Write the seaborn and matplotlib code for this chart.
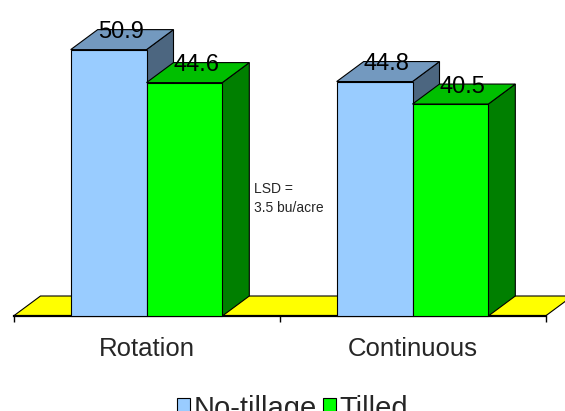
import numpy as np
import pandas as pd
import matplotlib
matplotlib.use("Agg")
import matplotlib.pyplot as plt
from matplotlib.patches import Polygon, Patch
import seaborn as sns

# Yield by cropping system and tillage (bu/acre)
systems = ["Rotation", "Continuous"]
tillage = ["No-tillage", "Tilled"]
no_till_yield = [50.9, 44.8]
tilled_yield = [44.6, 40.5]
lsd_note = "LSD =\n3.5 bu/acre"

front_colors = {"No-tillage": "#99CCFF", "Tilled": "#00FF00"}
top_colors = {"No-tillage": "#7399BF", "Tilled": "#00BF00"}
side_colors = {"No-tillage": "#4C6680", "Tilled": "#007F00"}
floor_color = "#FFFF00"

df = pd.DataFrame({
    "system": systems * 2,
    "tillage": [tillage[0]] * len(systems) + [tillage[1]] * len(systems),
    "yield": no_till_yield + tilled_yield,
})

sns.set_style("white")
plt.rcParams["font.family"] = ["Liberation Sans", "DejaVu Sans"]

W, H = 565, 411
fig = plt.figure(figsize=(W / 100, H / 100), dpi=100)
ax = fig.add_axes([13.5 / W, 95 / H, 532 / W, 314 / H])

sns.barplot(data=df, x="system", y="yield", hue="tillage",
            order=systems, hue_order=tillage,
            palette=[front_colors[t] for t in tillage], saturation=1,
            width=0.57, edgecolor="black", linewidth=0.8,
            ax=ax, legend=False)
ax.set_xlim(-0.5, 1.5)
ax.set_ylim(0, 60)

# depth of the pseudo-3D extrusion, in data units (27 px right, 20 px up)
origin = ax.transData.transform((0, 0))
ddx, ddy = ax.transData.inverted().transform(origin + np.array([27.0, 20.0]))

# yellow floor
floor = Polygon([(-0.5, 0), (1.5, 0), (1.5 + ddx, ddy), (-0.5 + ddx, ddy)],
                closed=True, facecolor=floor_color, edgecolor="black",
                linewidth=0.8, zorder=0.5, clip_on=False)
ax.add_patch(floor)

for hue_idx, container in enumerate(ax.containers):
    level = tillage[hue_idx]
    base = 2 + 2 * hue_idx
    for bar in container:
        x0, w, h = bar.get_x(), bar.get_width(), bar.get_height()
        top = Polygon([(x0, h), (x0 + w, h), (x0 + w + ddx, h + ddy), (x0 + ddx, h + ddy)],
                      closed=True, facecolor=top_colors[level], edgecolor="black",
                      linewidth=0.8, zorder=base, clip_on=False)
        side = Polygon([(x0 + w, 0), (x0 + w + ddx, ddy), (x0 + w + ddx, h + ddy), (x0 + w, h)],
                       closed=True, facecolor=side_colors[level], edgecolor="black",
                       linewidth=0.8, zorder=base, clip_on=False)
        ax.add_patch(side)
        ax.add_patch(top)
        bar.set_zorder(base + 1)
        bar.set_clip_on(False)
        ax.annotate(f"{h:.1f}", xy=(x0 + (w + ddx) / 2, h + ddy),
                    xytext=(-1.5 * 0.72, -2.5 * 0.72), textcoords="offset points",
                    ha="center", va="center", fontsize=17, color="black",
                    zorder=10, annotation_clip=False)

fig.text(254 / W, 1 - 211.5 / H, lsd_note, ha="left", va="baseline",
         fontsize=10, linespacing=1.45)

# axes furniture: only the floor's front edge with category ticks
for s in ["top", "left", "right"]:
    ax.spines[s].set_visible(False)
ax.spines["bottom"].set_color("black")
ax.spines["bottom"].set_linewidth(1.6)
ax.set_yticks([])
ax.set_xticks([0, 1])
ax.set_xticklabels(systems, fontsize=18.5)
ax.set_xticks([-0.5, 0.5, 1.5], minor=True)
ax.tick_params(axis="x", which="major", length=0, pad=15, bottom=False)
ax.tick_params(axis="x", which="minor", length=4, width=1, color="black",
               direction="out", bottom=True)
ax.set_xlabel("")
ax.set_ylabel("")
ax.patch.set_alpha(0)

handles = [Patch(facecolor=front_colors[t], edgecolor="black", linewidth=0.8) for t in tillage]
fig.legend(handles=handles, labels=tillage, loc="upper center",
           bbox_to_anchor=(292.5 / W, 1 - 380 / H), ncol=2, frameon=False,
           fontsize=21, handlelength=0.45, handleheight=0.45,
           handletextpad=0.12, columnspacing=0.2, borderpad=0)

fig.savefig("out.png", dpi=100, facecolor="white")
